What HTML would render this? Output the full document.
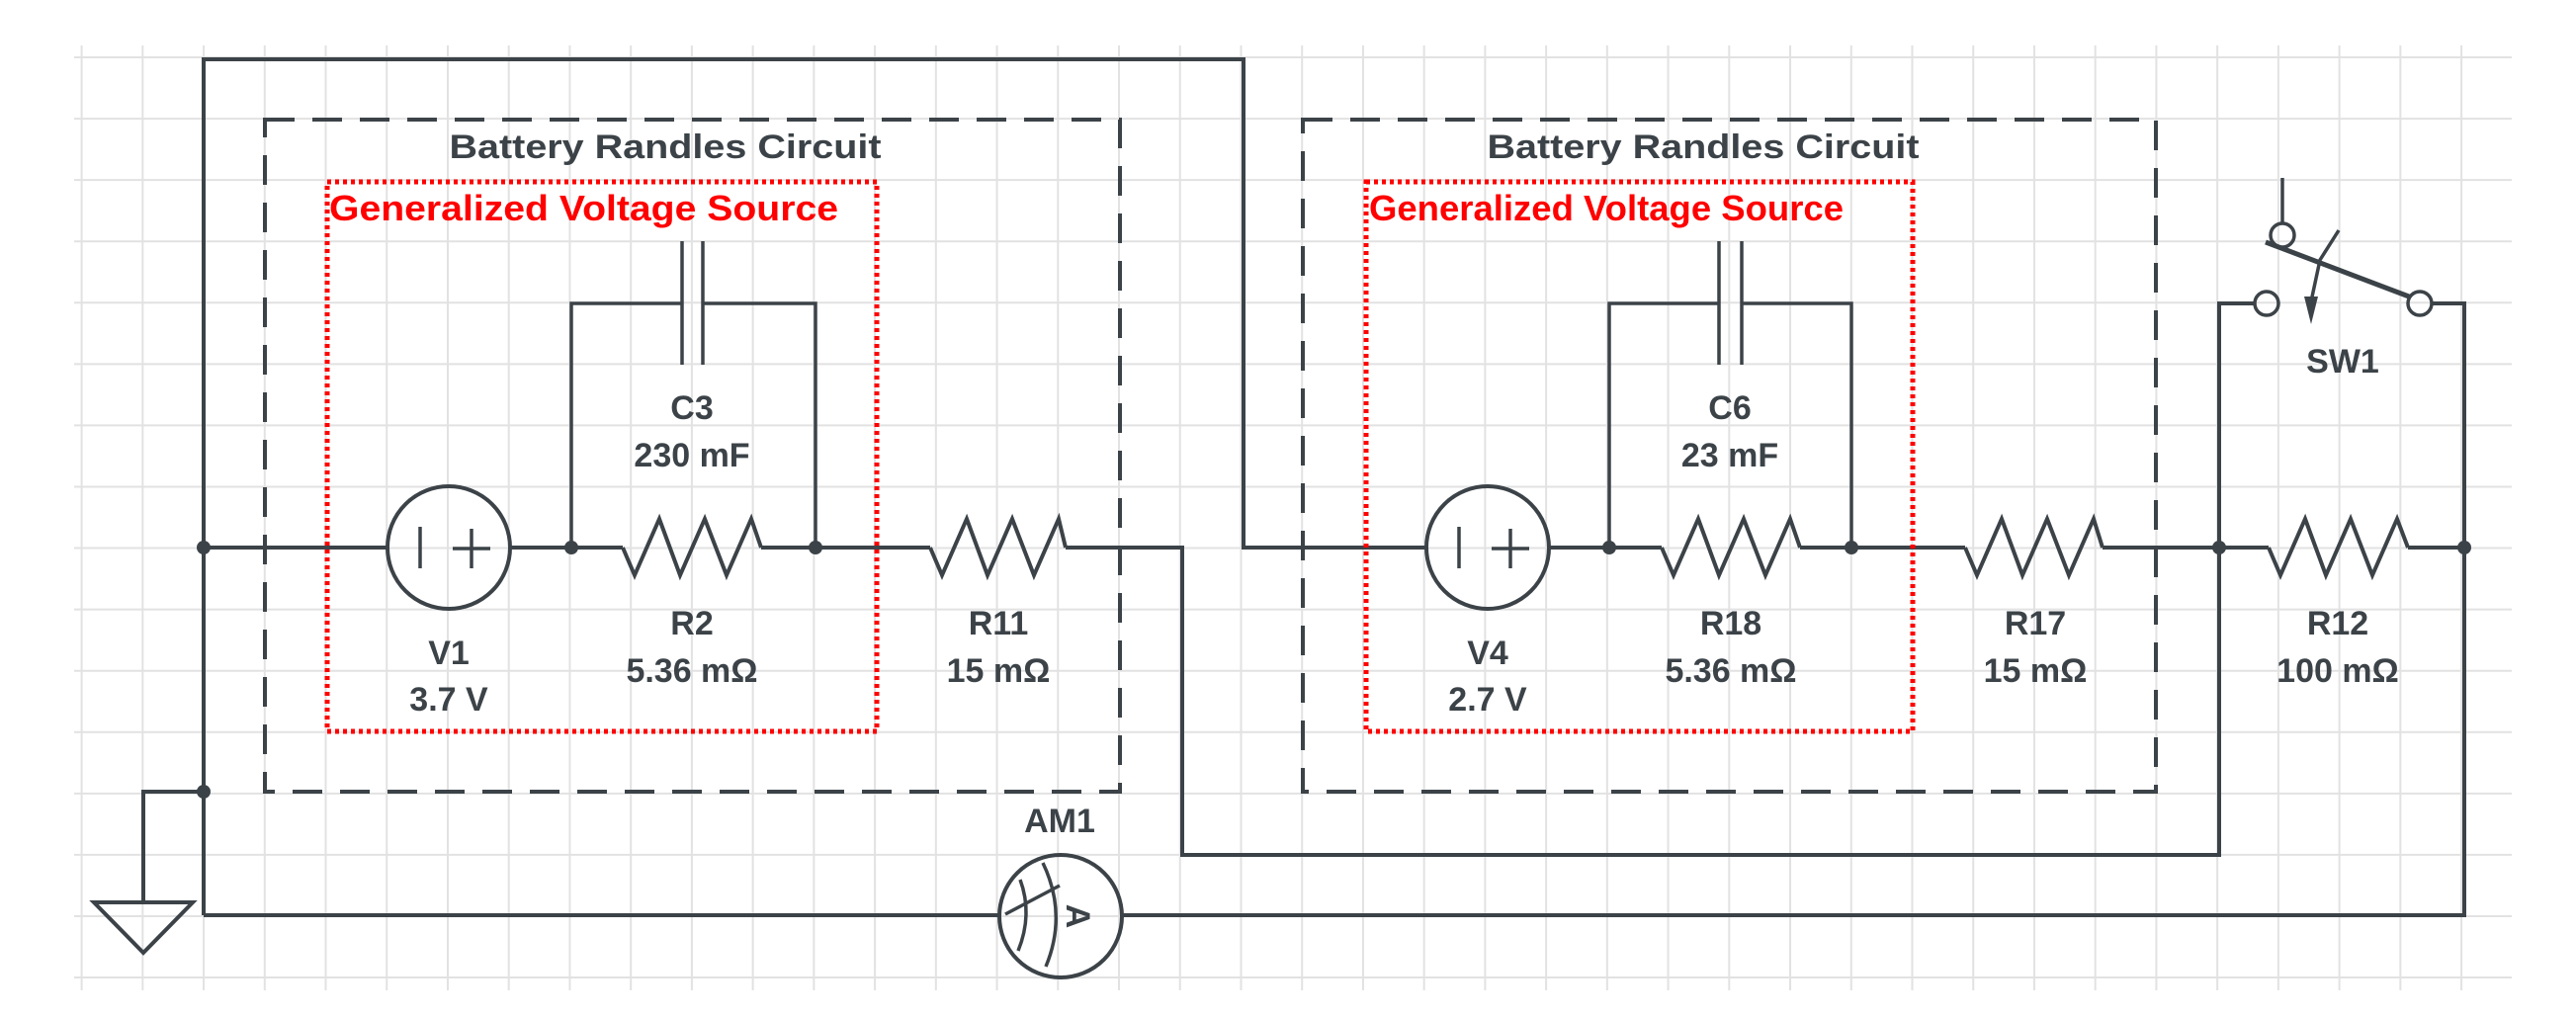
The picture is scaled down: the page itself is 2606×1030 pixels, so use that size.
<!DOCTYPE html>
<html><head><meta charset="utf-8"><style>html,body{margin:0;padding:0;background:#fff}svg{display:block}</style></head>
<body>
<svg width="2606" height="1030" viewBox="0 0 2606 1030" xmlns="http://www.w3.org/2000/svg">
<g stroke="#e3e3e3" stroke-width="2">
<script></script>
</g>
<g id="grid" stroke="#e2e2e2" stroke-width="2"></g>
<g fill="none" stroke="#3c4348" stroke-width="4" stroke-linejoin="miter">
<!-- top wire -->
<polyline points="206,926 206,60 1258,60 1258,554 1443,554"/>
<!-- main left -->
<line x1="206" y1="554" x2="392" y2="554"/>
<line x1="516" y1="554" x2="630" y2="554"/>
<line x1="770" y1="554" x2="941" y2="554"/>
<polyline points="1078,554 1196,554 1196,865 2245,865 2245,554"/>
<line x1="1567" y1="554" x2="1681" y2="554"/>
<line x1="1821" y1="554" x2="1988" y2="554"/>
<line x1="2127" y1="554" x2="2295" y2="554"/>
<line x1="2436" y1="554" x2="2493" y2="554"/>
<!-- bottom wire -->
<line x1="206" y1="926" x2="1010" y2="926"/>
<polyline points="1136,926 2493,926 2493,307 2460,307"/>
<polyline points="2245,554 2245,307 2281,307"/>
<!-- ground -->
<polyline points="206,801 145,801 145,913"/>
<polygon points="95,913 195,913 145,964"/>
<!-- resistors -->
<polyline points="630,554 642,582 667,525 688,582 713,525 735,582 760,525 770,554"/>
<polyline points="941,554 953,582 978,525 999,582 1024,525 1046,582 1071,525 1078,554"/>
<polyline points="1681,554 1693,582 1718,525 1739,582 1764,525 1786,582 1811,525 1821,554"/>
<polyline points="1988,554 2000,582 2025,525 2046,582 2071,525 2093,582 2118,525 2127,554"/>
<polyline points="2295,554 2307,582 2332,525 2353,582 2378,525 2400,582 2425,525 2436,554"/>
<!-- sources -->
<circle cx="454" cy="554" r="62"/>
<circle cx="1505" cy="554" r="62"/>
<circle cx="1073" cy="927" r="62"/>
</g>
<g fill="none" stroke="#3c4348" stroke-width="3.5">
<line x1="425" y1="533" x2="425" y2="575"/><line x1="458" y1="555" x2="496" y2="555"/><line x1="477" y1="535" x2="477" y2="575"/>
<line x1="1476" y1="533" x2="1476" y2="575"/><line x1="1509" y1="555" x2="1547" y2="555"/><line x1="1528" y1="535" x2="1528" y2="575"/>
<!-- cap loops -->
<polyline points="578,554 578,307 690,307"/><polyline points="711,307 825,307 825,554"/>
<line x1="690" y1="244" x2="690" y2="369"/><line x1="711" y1="244" x2="711" y2="369"/>
<polyline points="1628,554 1628,307 1739,307"/><polyline points="1762,307 1873,307 1873,554"/>
<line x1="1739" y1="244" x2="1739" y2="369"/><line x1="1762" y1="244" x2="1762" y2="369"/>
<!-- ammeter inner -->
<path d="M1032,890 Q1045,925 1030,962"/>
<path d="M1055,873 Q1080,925 1058,978"/>
<line x1="1017" y1="925" x2="1072" y2="896"/>
<!-- switch -->
<line x1="2309" y1="180" x2="2309" y2="226"/>
<circle cx="2309" cy="238" r="12"/>
<circle cx="2293" cy="307" r="12"/>
<circle cx="2448" cy="307" r="12"/>
<line x1="2292" y1="245" x2="2437" y2="300" stroke-width="5"/>
<polyline points="2366,233 2347,263 2338,305"/>
</g>
<polygon points="2331,300 2345,300 2338,328" fill="#3c4348"/>
<g fill="#3c4348">
<circle cx="206" cy="554" r="7"/><circle cx="206" cy="801" r="7"/>
<circle cx="578" cy="554" r="7"/><circle cx="825" cy="554" r="7"/>
<circle cx="1628" cy="554" r="7"/><circle cx="1873" cy="554" r="7"/>
<circle cx="2245" cy="554" r="7"/><circle cx="2493" cy="554" r="7"/>
</g>
<!-- boxes -->
<g fill="none" stroke="#3c4348" stroke-width="4" stroke-dasharray="30,18">
<rect x="268" y="121" width="865" height="680"/>
<rect x="1318" y="121" width="863" height="680"/>
</g>
<g fill="none" stroke="#ff0000" stroke-width="5" stroke-dasharray="4,4">
<rect x="331" y="184" width="556" height="556"/>
<rect x="1382" y="184" width="553" height="556"/>
</g>
<g font-family="Liberation Sans, Arial, sans-serif" font-weight="bold" fill="#3c4348" text-anchor="middle" font-size="34">
<text x="673" y="160" textLength="437" lengthAdjust="spacingAndGlyphs">Battery Randles Circuit</text>
<text x="1723" y="160" textLength="437" lengthAdjust="spacingAndGlyphs">Battery Randles Circuit</text>
<text x="700" y="424">C3</text><text x="700" y="472">230 mF</text>
<text x="700" y="642">R2</text><text x="700" y="690">5.36 mΩ</text>
<text x="454" y="672">V1</text><text x="454" y="719">3.7 V</text>
<text x="1010" y="642">R11</text><text x="1010" y="690">15 mΩ</text>
<text x="1750" y="424">C6</text><text x="1750" y="472">23 mF</text>
<text x="1751" y="642">R18</text><text x="1751" y="690">5.36 mΩ</text>
<text x="1505" y="672">V4</text><text x="1505" y="719">2.7 V</text>
<text x="2059" y="642">R17</text><text x="2059" y="690">15 mΩ</text>
<text x="2365" y="642">R12</text><text x="2365" y="690">100 mΩ</text>
<text x="2370" y="377">SW1</text>
<text x="1072" y="842">AM1</text>
<text x="0" y="0" transform="translate(1088,927) rotate(90)" font-size="34" dominant-baseline="middle">A</text>
</g>
<g font-family="Liberation Sans, Arial, sans-serif" font-weight="bold" fill="#ff0000" font-size="36">
<text x="333" y="223" textLength="515" lengthAdjust="spacingAndGlyphs">Generalized Voltage Source</text>
<text x="1385" y="223" textLength="480" lengthAdjust="spacingAndGlyphs">Generalized Voltage Source</text>
</g>
</svg>
<script>
(function(){var g=document.getElementById('grid'),ns='http://www.w3.org/2000/svg',s='';
for(var i=0;i<40;i++){var x=82.6+61.73*i;if(x>2545)break;s+='<line x1="'+x+'" y1="46" x2="'+x+'" y2="1002"/>';}
for(var j=0;j<16;j++){var y=58+62.07*j;if(y>1002)break;s+='<line x1="75" y1="'+y+'" x2="2541" y2="'+y+'"/>';}
g.innerHTML=s;g.parentNode.insertBefore(g,g.parentNode.children[0]);})();
</script>
</body></html>
